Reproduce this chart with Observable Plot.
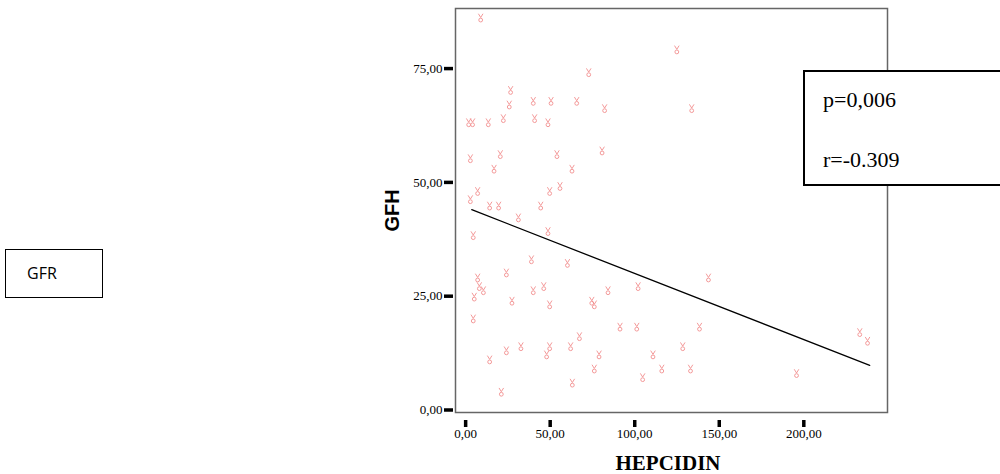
<!DOCTYPE html>
<html>
<head>
<meta charset="utf-8">
<script src="https://cdn.jsdelivr.net/npm/d3@7"></script>
<script src="https://cdn.jsdelivr.net/npm/@observablehq/plot@0.6"></script>
<style>
  html, body { margin: 0; padding: 0; background: #fff; }
  #wrap { position: relative; width: 1000px; height: 474px; overflow: hidden; }
  .box { position: absolute; background: #fff; box-sizing: border-box; }
  #gfr { left: 5px; top: 249px; width: 98px; height: 49px; border: 1.5px solid #000;
         font-family: "Open Sans", "Liberation Sans", sans-serif; font-size: 16px; }
  #gfr span { position: absolute; left: 21px; top: 12px; }
  #stats { left: 803px; top: 70px; width: 200px; height: 116px; border: 2px solid #000;
           font-family: "Liberation Serif", "DejaVu Serif", serif; font-size: 22px; color: #000; }
  #stats .l1 { position: absolute; left: 18px; top: 15px; }
  #stats .l2 { position: absolute; left: 18px; top: 75px; }
  #chart svg text { font-family: "Liberation Serif", "Times New Roman", serif; }
</style>
</head>
<body>
<div id="wrap">
  <div id="chart"></div>
  <div class="box" id="gfr"><span>GFR</span></div>
  <div class="box" id="stats"><div class="l1">p=0,006</div><div class="l2">r=-0.309</div></div>
</div>
<script>
// HEPCIDIN (x) and GFH (y) values
const hepcidin = [8.9, 72.8, 26.6, 25.8, 40.0, 50.5, 65.7, 82.2, 1.8, 4.1, 13.4, 22.3, 40.8, 48.7,
  2.8, 20.5, 54.0, 80.7, 16.8, 62.9, 7.1, 2.8, 55.8, 49.7, 14.2, 19.5, 44.4, 31.2,
  48.7, 4.5, 38.9, 60.2, 24.1, 7.1, 8.1, 10.5, 5.1, 40.0, 46.2, 27.4, 49.7, 74.6, 76.1, 84.2, 102.0,
  4.5, 91.3, 101.2, 67.3, 24.1, 32.7, 49.7, 47.9, 62.1, 14.2, 78.9, 76.1, 110.8, 116.0, 104.7, 63.1, 21.1,
  128.4, 133.0, 138.3, 143.6, 195.7, 233.1, 237.7, 124.9, 133.7];
const gfh = [86.1, 74.1, 70.2, 67.0, 67.8, 67.8, 67.8, 66.2, 63.1, 63.1, 63.1, 64.0, 64.0, 63.1,
  55.2, 56.1, 56.1, 56.9, 52.9, 52.9, 48.0, 46.2, 49.1, 48.0, 44.8, 44.8, 44.8, 42.2,
  39.2, 38.3, 33.0, 32.2, 30.1, 29.0, 27.1, 26.2, 24.8, 26.2, 27.1, 23.9, 23.1, 23.9, 23.1, 26.2, 27.1,
  20.0, 18.2, 18.2, 16.1, 13.0, 13.9, 13.9, 12.1, 13.9, 11.0, 12.1, 9.0, 12.1, 9.0, 7.1, 5.9, 3.9,
  13.9, 9.0, 18.2, 29.0, 8.0, 17.0, 15.1, 79.1, 66.2];
// fitted line (as drawn in the original)
const fitX = [3.6, 239.0];
const fitY = [44.0, 9.8];
const xTicks = [0, 50, 100, 150, 200];
const yTicks = [0, 25, 50, 75];
const xLabel = "HEPCIDIN";
const yLabel = "GFH";

const pts = hepcidin.map((x, i) => ({x, y: gfh[i]}));
const fit = fitX.map((x, i) => ({x, y: fitY[i]}));

const fmt = d => d3.format(".2f")(d).replace(".", ",");

const marker = {
  draw(ctx) {
    ctx.moveTo(-2.3, -4.3); ctx.lineTo(0, -0.6); ctx.lineTo(2.3, -4.3);
    ctx.moveTo(1.9, 2); ctx.arc(0, 2, 1.9, 0, 2 * Math.PI);
  }
};

const chart = Plot.plot({
  width: 1000,
  height: 474,
  marginLeft: 455,
  marginRight: 113,
  marginTop: 8,
  marginBottom: 62,
  style: {fontFamily: "'Liberation Serif', serif", fontSize: "13px", color: "#000", background: "#fff"},
  x: {domain: [-6, 249.5]},
  y: {domain: [-0.55, 88.2]},
  marks: [
    Plot.frame({stroke: "#666", strokeWidth: 1.5}),
    Plot.axisX({ticks: xTicks, tickFormat: fmt, tickSize: 7, tickPadding: 1, dy: 8, strokeWidth: 3.5, stroke: "#000",
                label: null}),
    Plot.axisY({ticks: yTicks, tickFormat: fmt, tickSize: 9, tickPadding: 2, dx: -2, strokeWidth: 3.5, stroke: "#000",
                label: null}),
    Plot.line(fit, {x: "x", y: "y", stroke: "#000", strokeWidth: 1.3}),
    Plot.dot(pts, {x: "x", y: "y", symbol: () => marker, r: 3, stroke: "#f28e8e", strokeWidth: 0.9, fill: "none"})
  ]
});

const svg = d3.select(chart);
svg.append("text")
  .attr("x", 668).attr("y", 470)
  .attr("text-anchor", "middle")
  .attr("font-weight", "bold")
  .attr("font-size", "21px")
  .text(xLabel);
svg.append("text")
  .attr("transform", "translate(399,210.5) rotate(-90)")
  .attr("text-anchor", "middle")
  .style("font-family", "'Liberation Sans', Arial, sans-serif")
  .attr("font-weight", "bold")
  .attr("font-size", "20px")
  .text(yLabel);

document.getElementById("chart").appendChild(chart);
</script>
</body>
</html>
